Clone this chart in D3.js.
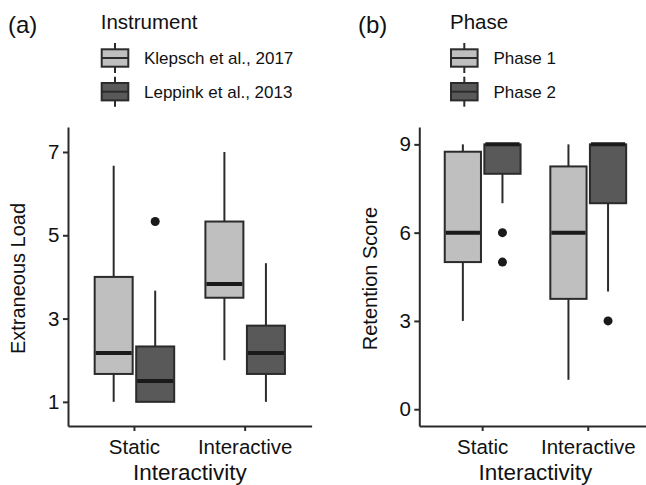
<!DOCTYPE html>
<html>
<head>
<meta charset="utf-8">
<script src="https://cdn.jsdelivr.net/npm/d3@7"></script>
<style>
body { margin: 0; background: #fff; }
svg { display: block; font-family: 'Liberation Sans', Arial, sans-serif; }
</style>
</head>
<body>
<svg width="646" height="485"></svg>
<script>
const svg = d3.select('svg');

const categories = ['Static', 'Interactive'];

// panel (a) box stats per category: [lower whisker, q1, median, q3, upper whisker]
const instruments = ['Klepsch et al., 2017', 'Leppink et al., 2013'];
const klepschLoad = [[1, 1.67, 2.17, 4.0, 6.67], [2, 3.5, 3.83, 5.33, 7]];
const leppinkLoad = [[1, 1, 1.5, 2.33, 3.67], [1, 1.67, 2.17, 2.83, 4.33]];
const klepschOutliers = [[], []];
const leppinkOutliers = [[5.33], []];
const loadTicks = [1, 3, 5, 7];

// panel (b)
const phases = ['Phase 1', 'Phase 2'];
const phase1Score = [[3, 5, 6, 8.75, 9], [1, 3.75, 6, 8.25, 9]];
const phase2Score = [[7, 8, 9, 9, 9], [4, 7, 9, 9, 9]];
const phase1Outliers = [[], []];
const phase2Outliers = [[6, 5], [3]];
const scoreTicks = [0, 3, 6, 9];

const fills = ['#bfbfbf', '#595959'];
const ink = '#2b2b2b';
const textCol = '#111';
const plotTop = 127, plotBottom = 426;

function drawPanel(p) {
    const g = svg.append('g');

    const x = d3.scaleBand()
        .domain(categories)
        .range([p.left, p.right])
        .paddingInner(0)
        .paddingOuter(0.1);
    const xSub = d3.scaleBand()
        .domain(p.groups)
        .range([-0.375 * x.step(), 0.375 * x.step()]);
    const y = d3.scaleLinear()
        .domain(p.yDomain)
        .range([plotBottom, plotTop]);
    const color = d3.scaleOrdinal().domain(p.groups).range(fills);
    const boxW = xSub.bandwidth() * 0.915;

    // rows
    const rows = [];
    p.groups.forEach((grp, gi) => {
        categories.forEach((cat, ci) => {
            const s = p.stats[gi][ci];
            rows.push({cat, grp, lo: s[0], q1: s[1], med: s[2], q3: s[3], hi: s[4], out: p.outliers[gi][ci]});
        });
    });
    const cx = d => x(d.cat) + x.bandwidth() / 2 + xSub(d.grp) + xSub.bandwidth() / 2;

    // axes
    const yAxis = d3.axisLeft(y)
        .tickValues(p.ticks)
        .tickSize(5)
        .tickSizeOuter(0)
        .tickPadding(3.5);
    const yAxisG = g.append('g')
        .attr('transform', `translate(${p.left},0)`)
        .call(yAxis);

    const xAxis = d3.axisBottom(x)
        .tickSize(5)
        .tickSizeOuter(0)
        .tickPadding(8);
    const xAxisG = g.append('g')
        .attr('transform', `translate(0,${plotBottom})`)
        .call(xAxis);

    [yAxisG, xAxisG].forEach(a => {
        a.select('.domain').attr('stroke', ink).attr('stroke-width', 2);
        a.selectAll('.tick line').attr('stroke', ink).attr('stroke-width', 2);
        a.selectAll('.tick text').attr('fill', textCol).attr('font-size', 20.5);
    });

    const boxes = g.selectAll('.box').data(rows).enter().append('g').attr('class', 'box');

    boxes.append('line')
        .attr('x1', cx).attr('x2', cx)
        .attr('y1', d => y(d.hi)).attr('y2', d => y(d.q3))
        .attr('stroke', ink).attr('stroke-width', 2);
    boxes.append('line')
        .attr('x1', cx).attr('x2', cx)
        .attr('y1', d => y(d.q1)).attr('y2', d => y(d.lo))
        .attr('stroke', ink).attr('stroke-width', 2);
    boxes.append('rect')
        .attr('x', d => cx(d) - boxW / 2)
        .attr('width', boxW)
        .attr('y', d => y(d.q3))
        .attr('height', d => y(d.q1) - y(d.q3))
        .attr('fill', d => color(d.grp))
        .attr('stroke', ink)
        .attr('stroke-width', 2);
    boxes.append('line')
        .attr('x1', d => cx(d) - boxW / 2 + 1)
        .attr('x2', d => cx(d) + boxW / 2 - 1)
        .attr('y1', d => y(d.med)).attr('y2', d => y(d.med))
        .attr('stroke', '#1a1a1a').attr('stroke-width', 4);
    boxes.selectAll('circle')
        .data(d => d.out.map(v => ({v, d})))
        .enter().append('circle')
        .attr('cx', o => cx(o.d))
        .attr('cy', o => y(o.v))
        .attr('r', 4.5)
        .attr('fill', '#1a1a1a');

    // axis titles
    g.append('text')
        .attr('transform', `translate(${p.yTitleX},${(plotTop + plotBottom) / 2 + 2}) rotate(-90)`)
        .attr('text-anchor', 'middle')
        .attr('font-size', 20)
        .attr('fill', textCol)
        .text(p.yTitle);
    g.append('text')
        .attr('x', (x.range()[0] + x.range()[1]) / 2)
        .attr('y', 480)
        .attr('text-anchor', 'middle')
        .attr('font-size', 22.5)
        .attr('fill', textCol)
        .text('Interactivity');

    // tag + legend
    g.append('text')
        .attr('x', p.tagX).attr('y', 33)
        .attr('font-size', 24)
        .attr('fill', textCol)
        .text(p.tag);
    g.append('text')
        .attr('x', p.legendX - 1).attr('y', 28.5)
        .attr('font-size', 20.5)
        .attr('fill', textCol)
        .text(p.legendTitle);

    const keyW = 26.6, keyH = 17.4;
    const legend = g.selectAll('.key').data(p.groups).enter().append('g')
        .attr('class', 'key')
        .attr('transform', (d, i) => `translate(${p.legendX},${58 + i * 33.7})`);
    legend.append('line')
        .attr('x1', keyW / 2).attr('x2', keyW / 2)
        .attr('y1', -15).attr('y2', 15)
        .attr('stroke', ink).attr('stroke-width', 2);
    legend.append('rect')
        .attr('x', 0).attr('y', -keyH / 2)
        .attr('width', keyW).attr('height', keyH)
        .attr('fill', d => color(d))
        .attr('stroke', ink).attr('stroke-width', 2);
    legend.append('line')
        .attr('x1', 0).attr('x2', keyW)
        .attr('y1', 0).attr('y2', 0)
        .attr('stroke', ink).attr('stroke-width', 2);
    legend.append('text')
        .attr('x', p.legendX2 - p.legendX)
        .attr('y', 6)
        .attr('font-size', 17)
        .attr('fill', textCol)
        .text(d => d);
}

drawPanel({
    left: 68, right: 311.6,
    groups: instruments,
    stats: [klepschLoad, leppinkLoad],
    outliers: [klepschOutliers, leppinkOutliers],
    ticks: loadTicks,
    yDomain: [0.42, 7.6],
    yTitle: 'Extraneous Load', yTitleX: 25,
    tag: '(a)', tagX: 8,
    legendTitle: 'Instrument', legendX: 101.7, legendX2: 144
});

drawPanel({
    left: 419.3, right: 651.6,
    groups: phases,
    stats: [phase1Score, phase2Score],
    outliers: [phase1Outliers, phase2Outliers],
    ticks: scoreTicks,
    yDomain: [-0.57, 9.59],
    yTitle: 'Retention Score', yTitleX: 376.7,
    tag: '(b)', tagX: 358,
    legendTitle: 'Phase', legendX: 451, legendX2: 493.5
});
</script>
</body>
</html>
